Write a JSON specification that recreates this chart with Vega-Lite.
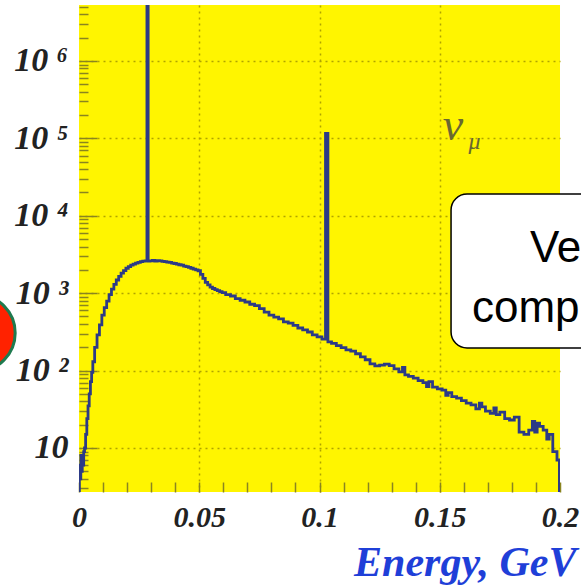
{
  "$schema": "https://vega.github.io/schema/vega-lite/v6.json",
  "width": 481,
  "height": 487,
  "autosize": {"type": "none"},
  "padding": {"left": 79, "top": 5, "right": 21, "bottom": 96},
  "background": "white",
  "config": {
    "view": {"fill": "#fff500", "stroke": null},
    "axis": {
      "domain": false,
      "labelFont": "Liberation Serif",
      "labelFontStyle": "italic",
      "labelFontWeight": "bold",
      "labelColor": "#222222",
      "labelOverlap": false,
      "labelFlush": false,
      "tickColor": "#8a8420",
      "tickWidth": 1.5,
      "gridColor": "#b0a400",
      "gridDash": [2, 4],
      "gridWidth": 1.5
    }
  },
  "datasets": {
    "hist": [
      {"energy": 0, "count": 2.7}, {"energy": 0.0003, "count": 6}, {"energy": 0.0006, "count": 4}, {"energy": 0.0009, "count": 8},
      {"energy": 0.0012, "count": 5}, {"energy": 0.0015, "count": 8}, {"energy": 0.0018, "count": 6}, {"energy": 0.0021, "count": 9},
      {"energy": 0.0025, "count": 10}, {"energy": 0.003, "count": 15}, {"energy": 0.0035, "count": 24}, {"energy": 0.004, "count": 35},
      {"energy": 0.0045, "count": 50}, {"energy": 0.005, "count": 72}, {"energy": 0.0055, "count": 95}, {"energy": 0.006, "count": 130},
      {"energy": 0.007, "count": 200}, {"energy": 0.008, "count": 290}, {"energy": 0.009, "count": 390}, {"energy": 0.010, "count": 520},
      {"energy": 0.011, "count": 650}, {"energy": 0.012, "count": 790}, {"energy": 0.013, "count": 960}, {"energy": 0.014, "count": 1130},
      {"energy": 0.015, "count": 1300}, {"energy": 0.016, "count": 1480}, {"energy": 0.017, "count": 1650}, {"energy": 0.018, "count": 1820},
      {"energy": 0.019, "count": 1960}, {"energy": 0.020, "count": 2100}, {"energy": 0.021, "count": 2200}, {"energy": 0.022, "count": 2300},
      {"energy": 0.023, "count": 2380}, {"energy": 0.024, "count": 2450}, {"energy": 0.025, "count": 2500}, {"energy": 0.026, "count": 2560},
      {"energy": 0.027, "count": 2600}, {"energy": 0.028, "count": 2620}, {"energy": 0.0285, "count": 10000000}, {"energy": 0.029, "count": 2600},
      {"energy": 0.030, "count": 2620}, {"energy": 0.031, "count": 2650}, {"energy": 0.032, "count": 2600}, {"energy": 0.033, "count": 2630},
      {"energy": 0.034, "count": 2620}, {"energy": 0.035, "count": 2580}, {"energy": 0.036, "count": 2560}, {"energy": 0.037, "count": 2520},
      {"energy": 0.038, "count": 2500}, {"energy": 0.039, "count": 2440}, {"energy": 0.040, "count": 2420}, {"energy": 0.041, "count": 2380},
      {"energy": 0.042, "count": 2330}, {"energy": 0.043, "count": 2300}, {"energy": 0.044, "count": 2240}, {"energy": 0.045, "count": 2200},
      {"energy": 0.046, "count": 2160}, {"energy": 0.047, "count": 2100}, {"energy": 0.048, "count": 2050}, {"energy": 0.049, "count": 2000},
      {"energy": 0.050, "count": 1950}, {"energy": 0.051, "count": 1750}, {"energy": 0.052, "count": 1550}, {"energy": 0.053, "count": 1380},
      {"energy": 0.054, "count": 1280}, {"energy": 0.055, "count": 1200}, {"energy": 0.056, "count": 1150}, {"energy": 0.057, "count": 1110},
      {"energy": 0.058, "count": 1080}, {"energy": 0.059, "count": 1050}, {"energy": 0.060, "count": 1020}, {"energy": 0.062, "count": 960},
      {"energy": 0.064, "count": 920}, {"energy": 0.066, "count": 850}, {"energy": 0.068, "count": 810}, {"energy": 0.070, "count": 770},
      {"energy": 0.072, "count": 720}, {"energy": 0.074, "count": 690}, {"energy": 0.076, "count": 630}, {"energy": 0.078, "count": 570},
      {"energy": 0.080, "count": 520}, {"energy": 0.082, "count": 490}, {"energy": 0.084, "count": 465}, {"energy": 0.086, "count": 425},
      {"energy": 0.088, "count": 410}, {"energy": 0.090, "count": 385}, {"energy": 0.092, "count": 355}, {"energy": 0.094, "count": 335},
      {"energy": 0.096, "count": 315}, {"energy": 0.098, "count": 290}, {"energy": 0.100, "count": 272}, {"energy": 0.102, "count": 255},
      {"energy": 0.103, "count": 116000}, {"energy": 0.104, "count": 235}, {"energy": 0.106, "count": 225}, {"energy": 0.108, "count": 210},
      {"energy": 0.110, "count": 198}, {"energy": 0.112, "count": 185}, {"energy": 0.114, "count": 178}, {"energy": 0.116, "count": 165},
      {"energy": 0.118, "count": 150}, {"energy": 0.120, "count": 138}, {"energy": 0.122, "count": 122}, {"energy": 0.124, "count": 115},
      {"energy": 0.126, "count": 118}, {"energy": 0.128, "count": 121}, {"energy": 0.130, "count": 116}, {"energy": 0.132, "count": 105},
      {"energy": 0.134, "count": 96}, {"energy": 0.135, "count": 110}, {"energy": 0.136, "count": 88}, {"energy": 0.138, "count": 84},
      {"energy": 0.140, "count": 80}, {"energy": 0.142, "count": 74}, {"energy": 0.144, "count": 70}, {"energy": 0.145, "count": 62},
      {"energy": 0.146, "count": 72}, {"energy": 0.148, "count": 61}, {"energy": 0.150, "count": 58}, {"energy": 0.152, "count": 56},
      {"energy": 0.153, "count": 48}, {"energy": 0.154, "count": 52}, {"energy": 0.156, "count": 46}, {"energy": 0.158, "count": 44},
      {"energy": 0.160, "count": 41}, {"energy": 0.162, "count": 38}, {"energy": 0.164, "count": 36}, {"energy": 0.166, "count": 32},
      {"energy": 0.167, "count": 38}, {"energy": 0.168, "count": 34}, {"energy": 0.170, "count": 30}, {"energy": 0.172, "count": 28},
      {"energy": 0.173, "count": 33}, {"energy": 0.174, "count": 27}, {"energy": 0.176, "count": 29}, {"energy": 0.178, "count": 24},
      {"energy": 0.180, "count": 23}, {"energy": 0.182, "count": 25}, {"energy": 0.184, "count": 16}, {"energy": 0.186, "count": 15},
      {"energy": 0.188, "count": 17}, {"energy": 0.189, "count": 22}, {"energy": 0.190, "count": 16}, {"energy": 0.191, "count": 21},
      {"energy": 0.192, "count": 19}, {"energy": 0.194, "count": 17}, {"energy": 0.195, "count": 13}, {"energy": 0.196, "count": 15},
      {"energy": 0.198, "count": 9}, {"energy": 0.1995, "count": 7}, {"energy": 0.2, "count": 2.7}
    ]
  },
  "encoding": {
    "x": {
      "field": "energy",
      "type": "quantitative",
      "scale": {"domain": [0, 0.2], "nice": false, "zero": false},
      "axis": {
        "values": [0, 0.01, 0.02, 0.03, 0.04, 0.05, 0.06, 0.07, 0.08, 0.09, 0.1, 0.11, 0.12, 0.13, 0.14, 0.15, 0.16, 0.17, 0.18, 0.19, 0.2],
        "title": "Energy, GeV",
        "labelExpr": "abs(datum.value*20 - round(datum.value*20)) < 0.001 ? format(datum.value, '~g') : ''",
        "labelFontSize": 30,
        "labelPadding": 20,
        "tickSize": -10,
        "grid": true,
        "gridOpacity": {"condition": {"test": "abs(datum.value*20 - round(datum.value*20)) < 0.001 && datum.value > 0.001 && datum.value < 0.199", "value": 1}, "value": 0},
        "titleFont": "Liberation Serif",
        "titleFontStyle": "italic",
        "titleFontWeight": "bold",
        "titleFontSize": 42,
        "titleColor": "#1f3fd8",
        "titleAlign": "right",
        "titleBaseline": "alphabetic",
        "titleX": 497,
        "titleY": 83
      }
    },
    "y": {
      "field": "count",
      "type": "quantitative",
      "scale": {"type": "log", "domain": [2.7, 5290000], "nice": false},
      "axis": {
        "values": [3, 4, 5, 6, 7, 8, 9, 10, 20, 30, 40, 50, 60, 70, 80, 90, 100, 200, 300, 400, 500, 600, 700, 800, 900, 1000, 2000, 3000, 4000, 5000, 6000, 7000, 8000, 9000, 10000, 20000, 30000, 40000, 50000, 60000, 70000, 80000, 90000, 100000, 200000, 300000, 400000, 500000, 600000, 700000, 800000, 900000, 1000000, 2000000, 3000000, 4000000, 5000000],
        "title": null,
        "labelExpr": "abs(log(datum.value)/LN10 - round(log(datum.value)/LN10)) > 0.001 ? '' : (datum.value < 11 ? '10' : datum.value < 101 ? '10 ²' : datum.value < 1001 ? '10 ³' : datum.value < 10001 ? '10 ⁴' : datum.value < 100001 ? '10 ⁵' : '10 ⁶')",
        "labelFontSize": 34,
        "labelPadding": 29,
        "tickSize": {"condition": {"test": "abs(log(datum.value)/LN10 - round(log(datum.value)/LN10)) < 0.001", "value": -18}, "value": -9},
        "grid": true,
        "gridOpacity": {"condition": {"test": "abs(log(datum.value)/LN10 - round(log(datum.value)/LN10)) < 0.001", "value": 1}, "value": 0}
      }
    }
  },
  "layer": [
    {
      "data": {"name": "hist"},
      "mark": {"type": "line", "interpolate": "step", "color": "#2c3a86", "strokeWidth": 2.8, "clip": true}
    },
    {
      "data": {"values": [{"energy": 0.1512, "count": 95300, "label": "ν"}]},
      "mark": {"type": "text", "align": "left", "baseline": "alphabetic", "font": "Liberation Serif", "fontStyle": "italic", "fontSize": 46, "color": "#6a6830"},
      "encoding": {"text": {"field": "label"}}
    },
    {
      "data": {"values": [{"energy": 0.162, "count": 72000, "label": "μ"}]},
      "mark": {"type": "text", "align": "left", "baseline": "alphabetic", "font": "Liberation Serif", "fontStyle": "italic", "fontSize": 24, "color": "#6a6830"},
      "encoding": {"text": {"field": "label"}}
    },
    {
      "data": {"values": [{"energy": 0.1547, "energy2": 0.24, "count": 19100, "count2": 196}]},
      "mark": {"type": "rect", "fill": "white", "stroke": "black", "strokeWidth": 1.5, "cornerRadius": 16, "clip": false},
      "encoding": {"x2": {"field": "energy2"}, "y2": {"field": "count2"}}
    },
    {
      "data": {"values": [{"energy": 0.1875, "count": 2530, "label": "Ve"}, {"energy": 0.1634, "count": 425, "label": "comp"}]},
      "mark": {"type": "text", "align": "left", "baseline": "alphabetic", "font": "Liberation Sans", "fontSize": 44, "color": "black", "clip": false},
      "encoding": {"text": {"field": "label"}}
    },
    {
      "data": {"values": [{"energy": -0.0425, "count": 306}]},
      "mark": {"type": "point", "shape": "circle", "filled": true, "fill": "#ff2200", "stroke": "#1f7a4f", "strokeWidth": 3, "size": 5900, "opacity": 1, "clip": false}
    }
  ]
}
